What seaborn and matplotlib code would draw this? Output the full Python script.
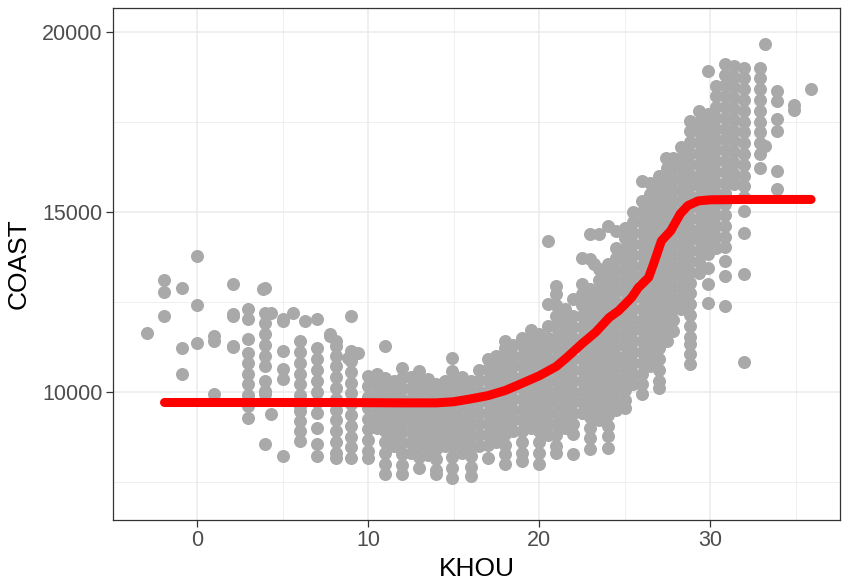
import matplotlib
matplotlib.use("Agg")
import matplotlib.pyplot as plt
from matplotlib.ticker import MultipleLocator
import seaborn as sns
import pandas as pd

# ---- data (one list of COAST values per KHOU column) ----
khou_columns = [-2.9, -1.9, -0.9, 0.0, 1.0, 2.1, 3.0, 3.85, 4.0, 4.3, 5.0, 5.6, 6.0, 6.3,
                7.0, 7.8, 8.1, 8.8, 9.0, 9.4, 10.0, 10.5, 11.0, 11.5, 12.0, 12.5, 13.0,
                13.5, 14.0, 14.5, 14.9, 15.5, 16.0, 16.5, 17.0, 17.5, 18.0, 18.5, 19.0,
                19.5, 20.0, 20.5, 21.0, 21.5, 22.0, 22.5, 23.0, 23.2, 23.5, 24.0, 24.5,
                25.0, 25.5, 26.0, 26.5, 27.0, 27.4, 27.5, 27.85, 28.3, 28.85, 29.35,
                29.85, 30.35, 30.85, 31.4, 31.95, 32.9, 33.2, 33.9, 34.9, 35.9]

coast_columns = [
    [11640],
    [13110, 12780, 12110],
    [12890, 11220, 10500],
    [13780, 12420, 11360],
    [11560, 11420, 9940],
    [13000, 12170, 12110, 11280, 11250],
    [12300, 12030, 11470, 11080, 10800, 10500, 10200, 9900, 9600, 9280],
    [12860],
    [12890, 12190, 11900, 11600, 11300, 11000, 10700, 10300, 10030, 9940, 8550],
    [12190, 9390],
    [12030, 11970, 11140, 10640, 10360, 8200],
    [12190],
    [11420, 11100, 10800, 10500, 10200, 9900, 9600, 9470, 9190, 8900, 8640],
    [11970],
    [12030, 11220, 10900, 10600, 10300, 10000, 9700, 9400, 9000, 8560, 8220],
    [11610, 11560],
    [11420, 11280, 11000, 10700, 10400, 10100, 9800, 9500, 9200, 8900, 8600, 8300, 8170],
    [10940],
    [12110, 11140, 10850, 10550, 10250, 9950, 9650, 9350, 9050, 8750, 8450, 8170],
    [11080],
    [10440, 10150, 9850, 9550, 9250, 8950, 8650, 8350, 8170],
    [10500, 10200, 9900, 9600, 9300, 9000],
    [11280, 10390, 10100, 9800, 9500, 9200, 8900, 8600, 8300, 8000, 7720],
    [10300, 10000, 9700, 9400, 9100, 8800, 8500],
    [10670, 10370, 10070, 9770, 9470, 9170, 8870, 8570, 8270, 7970, 7720],
    [10400, 10100, 9800, 9500, 9200, 8900, 8600, 8300],
    [10580, 10280, 9980, 9680, 9380, 9080, 8780, 8480, 8180, 7890],
    [10350, 10050, 9750, 9450, 9150, 8850, 8550, 8250],
    [10220, 9920, 9620, 9320, 9020, 8720, 8420, 8120, 7820, 7720],
    [10300, 10000, 9700, 9400, 9100, 8800, 8500],
    [10940, 10580, 10280, 9980, 9680, 9380, 9080, 8780, 8480, 8180, 7880, 7610],
    [10400, 10100, 9800, 9500, 9200, 8900, 8600, 8300],
    [10300, 10000, 9700, 9400, 9100, 8800, 8500, 8200, 7900, 7670],
    [10600, 10300, 10000, 9700, 9400, 9100, 8800, 8500],
    [10920, 10620, 10320, 10020, 9720, 9420, 9120, 8820, 8520, 8170],
    [11000, 10700, 10400, 10100, 9800, 9500, 9200, 8900, 8600],
    [11420, 11220, 10920, 10620, 10320, 10020, 9720, 9420, 9120, 8820, 8520, 8280, 8000],
    [11300, 11000, 10700, 10400, 10100, 9800, 9500, 9200, 8900],
    [11500, 11300, 11000, 10700, 10400, 10100, 9800, 9500, 9200, 8900, 8600, 8300, 8080],
    [11700, 11400, 11100, 10800, 10500, 10200, 9900, 9600, 9300, 9000],
    [11600, 11300, 11000, 10700, 10400, 10100, 9800, 9500, 9200, 8900, 8600, 8300, 8000],
    [14190, 12440, 11830, 11500, 11200, 10900, 10600, 10300, 10000, 9700, 9400, 9100, 8800],
    [12940, 12720, 12400, 12100, 11800, 11500, 11200, 10900, 10600, 10300, 10000, 9700,
     9400, 9100, 8800, 8500, 8300],
    [12300, 12000, 11700, 11400, 11100, 10800, 10500, 10200, 9900, 9600, 9300, 9000],
    [12580, 12110, 11800, 11500, 11200, 10900, 10600, 10300, 10000, 9700, 9400, 9100,
     8830, 8280],
    [13720, 13000, 12700, 12400, 12100, 11800, 11500, 11200, 10900, 10600, 10300, 10000,
     9700, 9400],
    [14390, 13690, 12860, 12610, 12300, 12000, 11700, 11400, 11100, 10800, 10500, 10200,
     9900, 9600, 9300, 9000, 8700, 8400],
    [13560],
    [14390, 13400, 13100, 12800, 12500, 12200, 11900, 11600, 11300, 11000, 10700, 10400,
     10100, 9800, 9500, 9200],
    [14610, 13560, 13260, 12960, 12660, 12360, 12060, 11760, 11460, 11160, 10860, 10560,
     10260, 9960, 9660, 9360, 9060, 8760, 8440],
    [14470, 14000, 13700, 13400, 13100, 12800, 12500, 12200, 11900, 11600, 11300, 11000,
     10700, 10400, 10100, 9800, 9500],
    [14560, 14260, 13960, 13660, 13360, 13060, 12760, 12460, 12160, 11860, 11560, 11260,
     10960, 10660, 10360, 10060, 9760, 9560],
    [15000, 14700, 14400, 14100, 13800, 13500, 13200, 12900, 12600, 12300, 12000, 11700,
     11400, 11100, 10800, 10500, 10200],
    [15860, 15300, 15000, 14700, 14400, 14100, 13800, 13500, 13200, 12900, 12600, 12300,
     12000, 11700, 11400, 11100, 10800, 10500, 10200, 9940],
    [15800, 15500, 15200, 14900, 14600, 14300, 14000, 13700, 13400, 13100, 12800, 12500,
     12200, 11900, 11600, 11300, 11000, 10700],
    [16000, 15700, 15400, 15100, 14800, 14500, 14200, 13900, 13600, 13300, 13000, 12700,
     12400, 12100, 11800, 11500, 11200, 10900, 10600, 10300, 10110],
    [16500],
    [16200, 15900, 15600, 15300, 15000, 14700, 14400, 14100, 13800, 13500, 13200, 12900,
     12600, 12300, 12000, 11700, 11400],
    [16500, 16200, 15900, 15600, 15300, 15000, 14700, 14400, 14100, 13800, 13500, 13200,
     12900, 12600, 12300, 12000, 11690],
    [16800, 16500, 16200, 15900, 15600, 15300, 15000, 14700, 14400, 14100, 13800, 13500,
     13200, 12900, 12600, 12300],
    [17530, 17230, 16930, 16630, 16330, 16030, 15730, 15430, 15130, 14830, 14530, 14230,
     13930, 13630, 13330, 13030, 12730, 12430, 12130, 11830, 11530, 11330, 11060, 10780],
    [17800, 17500, 17200, 16900, 16600, 16300, 16000, 15700, 15400, 15100, 14800, 14500,
     14200, 13900, 13600, 13300],
    [18920, 17720, 17420, 17120, 16820, 16520, 16220, 15920, 15620, 15320, 15020, 14720,
     14420, 14120, 13820, 13440, 13000, 12470],
    [18500, 18200, 17900, 17600, 17300, 17000, 16700, 16400, 16100, 15800, 15500, 15200,
     14900, 14600, 14300, 14000],
    [19110, 18810, 18510, 18210, 17910, 17610, 17310, 17010, 16710, 16410, 16110, 15810,
     15510, 15210, 14910, 14610, 14310, 14010, 13640, 13220, 12390],
    [19050, 18750, 18450, 18150, 17850, 17550, 17250, 16950, 16650, 16350, 16050, 15780],
    [19000, 18700, 18400, 18100, 17800, 17500, 17200, 16900, 16600, 16300, 16000, 15700,
     15400, 15030, 14420, 13280, 10830],
    [19000, 18700, 18400, 18100, 17800, 17500, 17200, 16900, 16600, 16220],
    [19670, 16830],
    [18360, 18080, 17580, 17250, 16140, 15640],
    [17950, 17830],
    [18420],
]

# fitted curve (red line)
fit_khou = [-1.9, 4, 8, 12, 14, 15, 16, 17, 18, 18.7, 20, 21, 21.6, 22.5, 23.3, 24.1,
            24.65, 25.4, 25.8, 26.4, 26.7, 27.15, 27.7, 28.25, 28.7, 29.3, 30.0, 32, 35.9]
fit_coast = [9700, 9700, 9700, 9690, 9690, 9720, 9800, 9890, 10030, 10170, 10440, 10700,
             10940, 11330, 11650, 12060, 12250, 12610, 12890, 13170, 13560, 14190, 14470,
             14940, 15170, 15300, 15330, 15340, 15340]

x_ticks = [0, 10, 20, 30]
y_ticks = [10000, 15000, 20000]

# ---- build table ----
rows_x, rows_y = [], []
for xv, ys in zip(khou_columns, coast_columns):
    for yv in ys:
        rows_x.append(xv)
        rows_y.append(yv)
df = pd.DataFrame({"KHOU": rows_x, "COAST": rows_y})
fit = pd.DataFrame({"KHOU": fit_khou, "COAST": fit_coast})

# ---- style ----
sns.set_theme(style="white")
plt.rcParams["font.family"] = ["Liberation Sans", "DejaVu Sans"]

fig = plt.figure(figsize=(8.44, 5.83), dpi=100)
ax = fig.add_axes([113 / 844, 63 / 583, 727 / 844, 512 / 583])

sns.scatterplot(data=df, x="KHOU", y="COAST", color="#A9A9A9", s=88, linewidth=0,
                ax=ax, zorder=3)
sns.lineplot(data=fit, x="KHOU", y="COAST", color="#FF0000", linewidth=6.5,
             estimator=None, sort=True, ax=ax, zorder=4)

ax.set_xlim(-4.91, 37.59)
ax.set_ylim(6436, 20658)
ax.set_xticks(x_ticks)
ax.set_yticks(y_ticks)
ax.xaxis.set_minor_locator(MultipleLocator(5))
ax.yaxis.set_minor_locator(MultipleLocator(2500))

ax.grid(True, which="major", color="#EBEBEB", linewidth=1.1, zorder=0)
ax.grid(True, which="minor", color="#EBEBEB", linewidth=0.55, zorder=0)
ax.set_axisbelow(True)

for sp in ax.spines.values():
    sp.set_color("#333333")
    sp.set_linewidth(0.9)

ax.tick_params(axis="both", which="major", length=5, width=0.9, color="#333333",
               labelcolor="#4D4D4D", labelsize=15.5, pad=2.5,
               bottom=True, left=True)
ax.tick_params(axis="both", which="minor", length=0)

ax.set_xlabel("KHOU", fontsize=19, color="black", labelpad=4)
ax.set_ylabel("COAST", fontsize=19, color="black", labelpad=8)

fig.savefig("out.png", dpi=100)
